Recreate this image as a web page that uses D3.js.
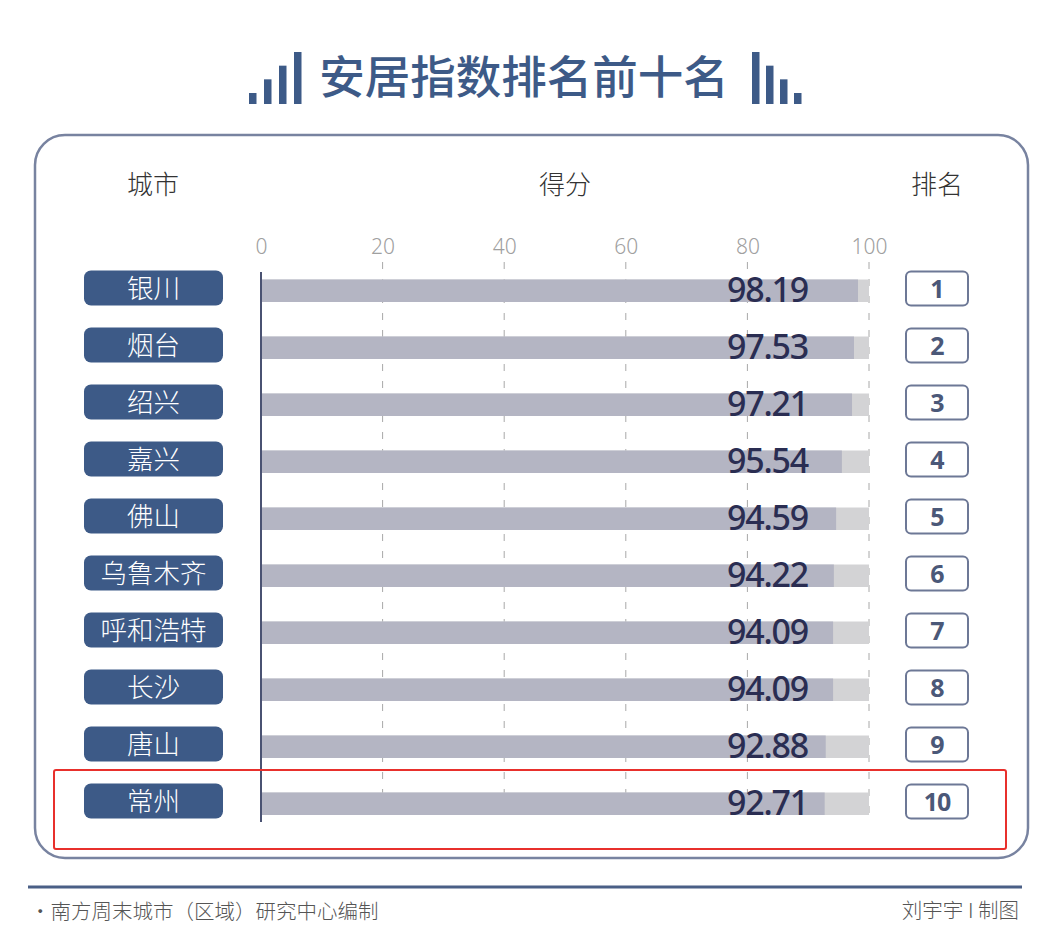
<!DOCTYPE html>
<html>
<head>
<meta charset="utf-8">
<script src="https://cdn.jsdelivr.net/npm/d3@7"></script>
<style>
  body { margin: 0; background: #fff; }
  svg { display: block; }
</style>
</head>
<body>
<svg id="chart"></svg>
<script>
const w = 1050
const h = 950

const navy = "#3d5a87"
const font = "'Noto Sans CJK SC', 'Noto Sans', sans-serif"

const cities = ["银川", "烟台", "绍兴", "嘉兴", "佛山", "乌鲁木齐", "呼和浩特", "长沙", "唐山", "常州"]
const scores = [98.19, 97.53, 97.21, 95.54, 94.59, 94.22, 94.09, 94.09, 92.88, 92.71]
const ranks = [1, 2, 3, 4, 5, 6, 7, 8, 9, 10]
const ticks = [0, 20, 40, 60, 80, 100]
const iconBars = [1, 2, 3, 4]

const rows = cities.map((c, i) => ({ city: c, score: scores[i], rank: ranks[i] }))

const svg = d3.select('#chart')
  .attr('width', w)
  .attr('height', h)

const x = d3.scaleLinear()
  .domain([0, 100])
  .range([261, 869])

const y = d3.scaleBand()
  .domain(cities)
  .range([260.5, 830.5])

// title + little bar icons
svg.append('text')
  .attr('x', 524)
  .attr('y', 94)
  .attr('text-anchor', 'middle')
  .style('font-family', font)
  .style('font-size', '45.5px')
  .style('font-weight', 500)
  .attr('fill', navy)
  .text('安居指数排名前十名')

const iconH = d3.scaleLinear().domain([1, 4]).range([11, 52])
const iconX = d3.scaleLinear().domain([1, 4]).range([249, 294])
const iconXr = d3.scaleLinear().domain([1, 4]).range([794, 752])

svg.append('g').selectAll('rect')
  .data(iconBars).enter()
  .append('rect')
    .attr('x', d => iconX(d))
    .attr('y', d => 104 - iconH(d))
    .attr('width', 7.5)
    .attr('height', d => iconH(d))
    .attr('fill', navy)

svg.append('g').selectAll('rect')
  .data(iconBars).enter()
  .append('rect')
    .attr('x', d => iconXr(d))
    .attr('y', d => 104 - iconH(d))
    .attr('width', 7.5)
    .attr('height', d => iconH(d))
    .attr('fill', navy)

// panel
svg.append('rect')
  .attr('x', 35)
  .attr('y', 135)
  .attr('width', 993)
  .attr('height', 723)
  .attr('rx', 30)
  .attr('fill', '#fff')
  .attr('stroke', '#7883a0')
  .attr('stroke-width', 2.5)

// headers
const headers = [['城市', 153], ['得分', 565], ['排名', 937]]
svg.selectAll('text.header')
  .data(headers).enter()
  .append('text')
    .classed('header', true)
    .attr('x', d => d[1])
    .attr('y', 194)
    .attr('text-anchor', 'middle')
    .style('font-family', font)
    .style('font-size', '26px')
    .style('font-weight', 300)
    .attr('fill', '#333')
    .text(d => d[0])

// x axis labels + dashed grid
svg.append('g')
  .attr('transform', 'translate(0,254)')
  .call(d3.axisTop(x).tickValues(ticks).tickSize(0).tickPadding(0))
  .call(g => g.select('.domain').remove())
  .call(g => g.selectAll('.tick text')
    .style('font-family', "'Noto Sans', sans-serif")
    .style('font-size', '21px')
    .style('font-weight', 300)
    .attr('fill', '#a0a0a0'))

svg.append('g')
  .selectAll('line')
  .data(ticks.slice(1)).enter()
  .append('line')
    .attr('x1', d => x(d))
    .attr('x2', d => x(d))
    .attr('y1', 262)
    .attr('y2', 822)
    .attr('stroke', '#a8a8a8')
    .attr('stroke-width', 1)
    .attr('stroke-dasharray', '7,10')

// background bars to 100
svg.append('g')
  .selectAll('rect')
  .data(rows).enter()
  .append('rect')
    .attr('x', x(0))
    .attr('y', d => y(d.city) + 19)
    .attr('width', x(100) - x(0))
    .attr('height', 22.5)
    .attr('fill', '#d3d3d5')

// score bars
svg.append('g')
  .selectAll('rect')
  .data(rows).enter()
  .append('rect')
    .attr('x', x(0))
    .attr('y', d => y(d.city) + 19)
    .attr('width', d => x(d.score) - x(0))
    .attr('height', 22.5)
    .attr('fill', '#b4b5c3')

// axis line
svg.append('line')
  .attr('x1', x(0))
  .attr('x2', x(0))
  .attr('y1', 272)
  .attr('y2', 822)
  .attr('stroke', '#4a5272')
  .attr('stroke-width', 2)

// values
svg.append('g')
  .selectAll('text')
  .data(rows).enter()
  .append('text')
    .attr('x', 808)
    .attr('y', d => y(d.city) + 41)
    .attr('text-anchor', 'end')
    .style('font-family', "'Noto Sans', sans-serif")
    .style('font-size', '34px')
    .style('font-weight', 500)
    .style('letter-spacing', '-1.2px')
    .attr('fill', '#2a2d52')
    .text(d => d.score.toFixed(2))

// city labels
const cityG = svg.append('g')
  .selectAll('g')
  .data(rows).enter()
  .append('g')
    .attr('transform', d => `translate(0,${y(d.city)})`)

cityG.append('rect')
  .attr('x', 84)
  .attr('y', 10)
  .attr('width', 139)
  .attr('height', 35)
  .attr('rx', 7)
  .attr('fill', navy)

cityG.append('text')
  .attr('x', 153.5)
  .attr('y', 37)
  .attr('text-anchor', 'middle')
  .style('font-family', font)
  .style('font-size', '26.5px')
  .style('font-weight', 300)
  .attr('fill', '#fff')
  .text(d => d.city)

// rank boxes
const rankG = svg.append('g')
  .selectAll('g')
  .data(rows).enter()
  .append('g')
    .attr('transform', d => `translate(0,${y(d.city)})`)

rankG.append('rect')
  .attr('x', 906)
  .attr('y', 11)
  .attr('width', 62)
  .attr('height', 34)
  .attr('rx', 5)
  .attr('fill', '#fff')
  .attr('stroke', '#6d7896')
  .attr('stroke-width', 2)

rankG.append('text')
  .attr('x', 937)
  .attr('y', 37)
  .attr('text-anchor', 'middle')
  .style('font-family', "'Noto Sans', sans-serif")
  .style('font-size', '25px')
  .style('font-weight', 700)
  .style('letter-spacing', '-1px')
  .attr('fill', '#4b5878')
  .text(d => d.rank)

// red highlight around last row
svg.append('rect')
  .attr('x', 54)
  .attr('y', 770)
  .attr('width', 952)
  .attr('height', 79)
  .attr('rx', 2)
  .attr('fill', 'none')
  .attr('stroke', '#e8302c')
  .attr('stroke-width', 2)

// footer
svg.append('line')
  .attr('x1', 28)
  .attr('x2', 1022)
  .attr('y1', 887)
  .attr('y2', 887)
  .attr('stroke', '#4a5f86')
  .attr('stroke-width', 3)

svg.append('text')
  .attr('x', 30)
  .attr('y', 919)
  .style('font-family', font)
  .style('font-size', '20.5px')
  .style('font-weight', 300)
  .attr('fill', '#555')
  .text('·南方周末城市（区域）研究中心编制')

svg.append('text')
  .attr('x', 1019)
  .attr('y', 918)
  .attr('text-anchor', 'end')
  .style('font-family', font)
  .style('font-size', '20.5px')
  .style('font-weight', 300)
  .attr('fill', '#555')
  .text('刘宇宇 I 制图')
</script>
</body>
</html>
